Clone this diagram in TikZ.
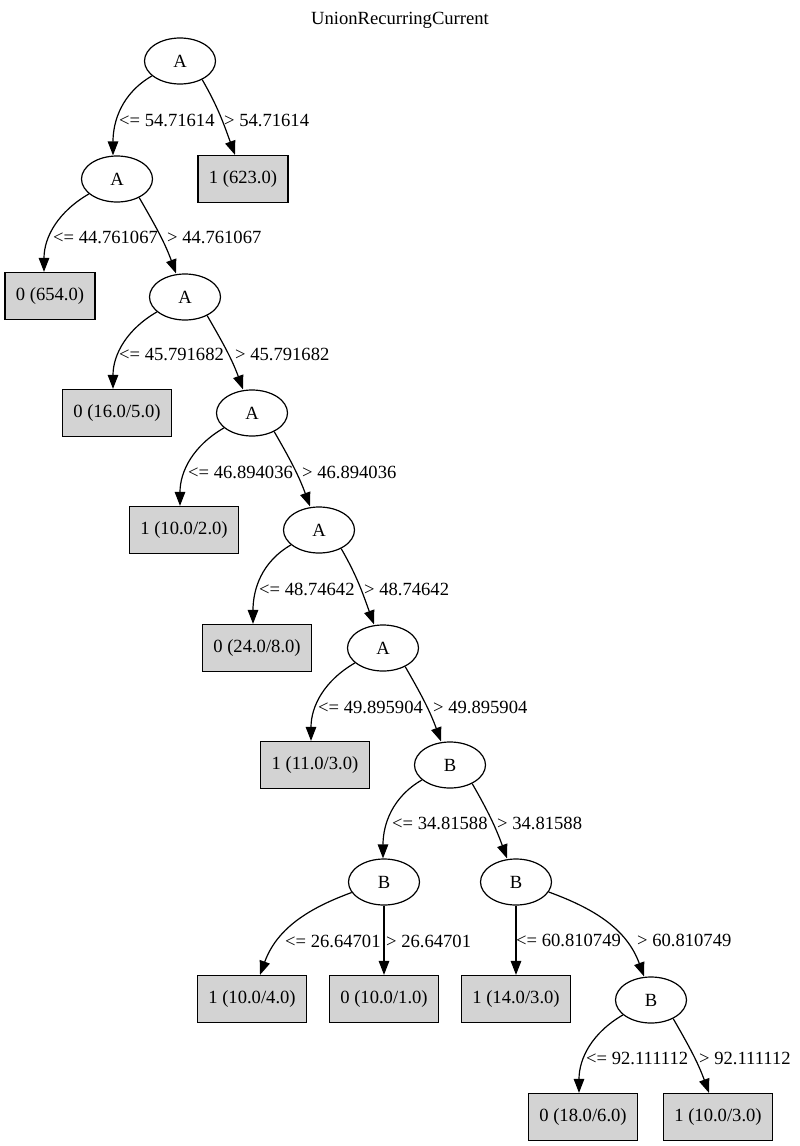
\documentclass[tikz,border=0pt]{standalone}
\usepackage{fontspec}
\setmainfont{Liberation Serif}
\usetikzlibrary{shapes.geometric,arrows.meta}
\definecolor{leafgray}{RGB}{211,211,211}
\begin{document}
\begin{tikzpicture}[
    x=1pt, y=1pt,
    font=\fontsize{18.6}{22}\selectfont,
    test/.style={ellipse, draw, line width=1.2pt, minimum width=71pt, minimum height=46pt, inner sep=0pt},
    leaf/.style={rectangle, draw, line width=1.2pt, fill=leafgray, minimum height=47pt, inner xsep=11pt},
    edge/.style={-{Triangle[length=14pt,width=10.5pt]}, line width=1.2pt},
    cut/.style={anchor=west, inner sep=0pt}
]
\useasboundingbox (0,0) rectangle (800,-1146);

\node (title) at (400,-20) {UnionRecurringCurrent};

% Split nodes
\node[test] (a1) at (180,-61) {A};
\node[test] (a2) at (117,-179) {A};
\node[test] (a3) at (185,-297) {A};
\node[test] (a4) at (252,-413) {A};
\node[test] (a5) at (319,-530) {A};
\node[test] (a6) at (383,-648) {A};
\node[test] (b1) at (450,-765) {B};
\node[test] (b2) at (384,-882) {B};
\node[test] (b3) at (516,-882) {B};
\node[test] (b4) at (651,-1000) {B};

% Leaves
\node[leaf] (leaf1) at (243,-179) {1 (623.0)};
\node[leaf] (leaf2) at (50,-296) {0 (654.0)};
\node[leaf] (leaf3) at (117,-413) {0 (16.0/5.0)};
\node[leaf] (leaf4) at (184,-530) {1 (10.0/2.0)};
\node[leaf] (leaf5) at (257,-648) {0 (24.0/8.0)};
\node[leaf] (leaf6) at (315,-765) {1 (11.0/3.0)};
\node[leaf] (leaf7) at (252,-999) {1 (10.0/4.0)};
\node[leaf] (leaf8) at (384,-999) {0 (10.0/1.0)};
\node[leaf] (leaf9) at (516,-999) {1 (14.0/3.0)};
\node[leaf] (leaf10) at (583,-1117) {0 (18.0/6.0)};
\node[leaf] (leaf11) at (718,-1117) {1 (10.0/3.0)};

% Connections
\draw[edge] (a1.-152) to[out=-150,in=90] ([xshift=-4pt]a2.north);
\draw[edge] (a1.-40) to[out=-60,in=110] ([xshift=-8pt]leaf1.north);
\draw[edge] (a2.-152) to[out=-150,in=90] ([xshift=-6pt]leaf2.north);
\draw[edge] (a2.-40) to[out=-60,in=110] ([xshift=-9pt]a3.north);
\draw[edge] (a3.-152) to[out=-150,in=90] ([xshift=-4pt]leaf3.north);
\draw[edge] (a3.-40) to[out=-60,in=110] ([xshift=-9pt]a4.north);
\draw[edge] (a4.-152) to[out=-150,in=90] ([xshift=-4pt]leaf4.north);
\draw[edge] (a4.-40) to[out=-60,in=110] ([xshift=-9pt]a5.north);
\draw[edge] (a5.-152) to[out=-150,in=90] ([xshift=-4pt]leaf5.north);
\draw[edge] (a5.-40) to[out=-60,in=110] ([xshift=-9pt]a6.north);
\draw[edge] (a6.-152) to[out=-150,in=90] ([xshift=-4pt]leaf6.north);
\draw[edge] (a6.-40) to[out=-60,in=110] ([xshift=-9pt]b1.north);
\draw[edge] (b1.-152) to[out=-150,in=90] ([xshift=-1pt]b2.north);
\draw[edge] (b1.-40) to[out=-60,in=110] ([xshift=-9pt]b3.north);
\draw[edge] (b2.-162) to[out=-160,in=70] ([xshift=8pt]leaf7.north);
\draw[edge] (b2) -- (leaf8);
\draw[edge] (b3) -- (leaf9);
\draw[edge] (b3.-17) to[out=-20,in=110] ([xshift=-7pt]b4.north);
\draw[edge] (b4.-152) to[out=-150,in=90] ([xshift=-4pt]leaf10.north);
\draw[edge] (b4.-40) to[out=-60,in=110] ([xshift=-9pt]leaf11.north);

% Edge labels
\node[cut] (c1l) at (119,-120) {<= 54.71614};
\node[cut] (c1r) at (224,-120) {> 54.71614};
\node[cut] (c2l) at (53,-237) {<= 44.761067};
\node[cut] (c2r) at (167,-237) {> 44.761067};
\node[cut] (c3l) at (119,-354) {<= 45.791682};
\node[cut] (c3r) at (235,-354) {> 45.791682};
\node[cut] (c4l) at (188,-472) {<= 46.894036};
\node[cut] (c4r) at (302,-472) {> 46.894036};
\node[cut] (c5l) at (259,-589) {<= 48.74642};
\node[cut] (c5r) at (364,-589) {> 48.74642};
\node[cut] (c6l) at (318,-707) {<= 49.895904};
\node[cut] (c6r) at (433,-707) {> 49.895904};
\node[cut] (c7l) at (392,-823) {<= 34.81588};
\node[cut] (c7r) at (497,-823) {> 34.81588};
\node[cut] (c8l) at (285,-941) {<= 26.64701};
\node[cut] (c8r) at (386,-941) {> 26.64701};
\node[cut] (c9l) at (516,-940) {<= 60.810749};
\node[cut] (c9r) at (637,-940) {> 60.810749};
\node[cut] (c10l) at (586,-1058) {<= 92.111112};
\node[cut] (c10r) at (699,-1058) {> 92.111112};

\end{tikzpicture}
\end{document}
